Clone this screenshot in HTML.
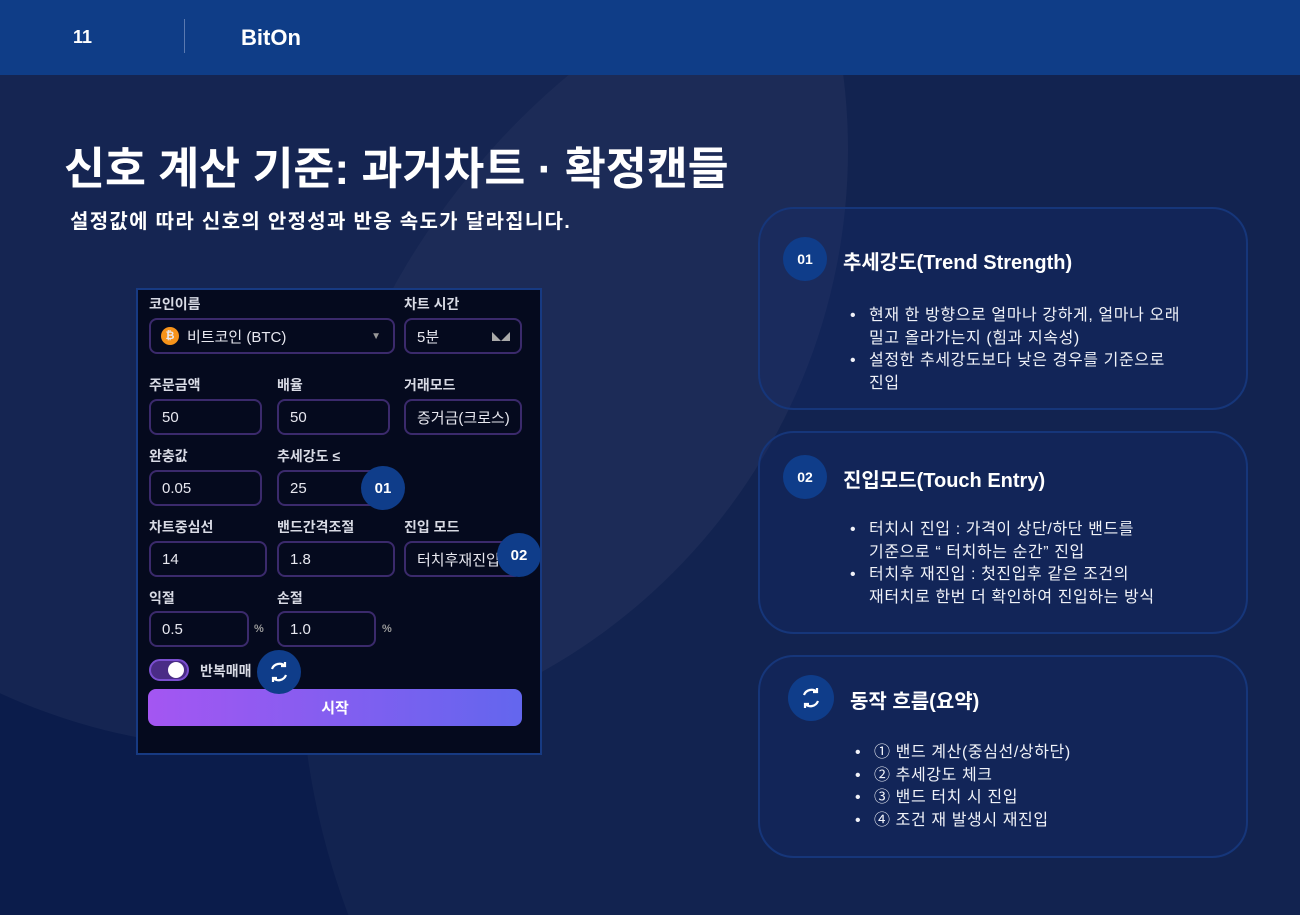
<!DOCTYPE html>
<html><head><meta charset="utf-8">
<style>
*{margin:0;padding:0;box-sizing:border-box}
html,body{width:1300px;height:915px;overflow:hidden}
body{background:#0b1c4b;font-family:"Liberation Sans","Noto Sans CJK KR",sans-serif;color:#fff;position:relative}
.abs{position:absolute}
.hdr{left:0;top:0;width:1300px;height:75px;background:#0f3d87}
.card{position:absolute;left:758px;width:490px;border:2px solid #16367a;border-radius:36px;background:rgba(20,45,110,0.25)}
.badge{position:absolute;border-radius:50%;background:#0f3d8a;color:#fff;font-weight:bold;font-size:14px;display:flex;align-items:center;justify-content:center}
.ct{position:absolute;font-size:20px;font-weight:bold;white-space:nowrap}
.bl{position:absolute;font-size:16px;line-height:22.5px;white-space:nowrap;color:#f0f2f8;letter-spacing:0.6px}
.bl li{list-style:none;position:relative}
.bl li:before{content:"•";position:absolute;left:-19px}
.panel{left:136px;top:288px;width:406px;height:467px;background:#050a1e;border:2px solid #173a82}
.lab{position:absolute;font-size:14px;font-weight:bold;color:#d8dae4;white-space:nowrap}
.inp{position:absolute;height:36px;border:2px solid #3b2a6c;border-radius:8px;font-size:15px;color:#e8e8f0;padding-left:11px;display:flex;align-items:center;white-space:nowrap;overflow:hidden}
.pct{position:absolute;font-size:11px;color:#999;font-weight:bold}
</style></head><body>
<svg class="abs" style="left:0;top:0" width="1300" height="915">
<circle cx="250" cy="150" r="598" fill="#ffffff" fill-opacity="0.045"/>
<circle cx="1050" cy="650" r="750" fill="#ffffff" fill-opacity="0.03"/>
</svg>
<div class="abs hdr"></div>
<div class="abs" style="left:73px;top:27px;font-size:18px;font-weight:bold">11</div>
<div class="abs" style="left:184px;top:19px;width:1px;height:34px;background:#5a79b0"></div>
<div class="abs" style="left:241px;top:25px;font-size:22px;font-weight:bold">BitOn</div>

<div class="abs" style="left:64px;top:132px;font-size:44.5px;font-weight:bold;white-space:nowrap">신호 계산 기준: 과거차트 · 확정캔들</div>
<div class="abs" style="left:70px;top:205px;font-size:20px;font-weight:bold;white-space:nowrap;letter-spacing:1.3px">설정값에 따라 신호의 안정성과 반응 속도가 달라집니다.</div>

<div class="abs panel"></div>
<div class="lab" style="left:149px;top:294px">코인이름</div>
<div class="lab" style="left:404px;top:294px">차트 시간</div>
<div class="inp" style="left:149px;top:318px;width:246px;padding-left:10px"><span style="display:inline-block;width:18px;height:18px;border-radius:50%;background:#f7931a;font-size:11px;text-align:center;line-height:18px;margin-right:8px;font-weight:bold">₿</span>비트코인 (BTC)<span style="position:absolute;right:12px;font-size:10px;color:#999">▼</span></div>
<div class="inp" style="left:404px;top:318px;width:118px">5분<span style="position:absolute;right:10px;font-size:9px;color:#aaa">◣◢</span></div>

<div class="lab" style="left:149px;top:375px">주문금액</div>
<div class="lab" style="left:277px;top:375px">배율</div>
<div class="lab" style="left:404px;top:375px">거래모드</div>
<div class="inp" style="left:149px;top:399px;width:113px">50</div>
<div class="inp" style="left:277px;top:399px;width:113px">50</div>
<div class="inp" style="left:404px;top:399px;width:118px">증거금(크로스)</div>

<div class="lab" style="left:149px;top:446px">완충값</div>
<div class="lab" style="left:277px;top:446px">추세강도 ≤</div>
<div class="inp" style="left:149px;top:470px;width:113px">0.05</div>
<div class="inp" style="left:277px;top:470px;width:113px">25</div>

<div class="lab" style="left:149px;top:517px">차트중심선</div>
<div class="lab" style="left:277px;top:517px">밴드간격조절</div>
<div class="lab" style="left:404px;top:517px">진입 모드</div>
<div class="inp" style="left:149px;top:541px;width:118px">14</div>
<div class="inp" style="left:277px;top:541px;width:118px">1.8</div>
<div class="inp" style="left:404px;top:541px;width:118px">터치후재진입</div>

<div class="lab" style="left:149px;top:588px">익절</div>
<div class="lab" style="left:277px;top:588px">손절</div>
<div class="inp" style="left:149px;top:611px;width:100px">0.5</div>
<div class="pct" style="left:254px;top:623px">%</div>
<div class="inp" style="left:277px;top:611px;width:99px">1.0</div>
<div class="pct" style="left:382px;top:623px">%</div>

<div class="abs" style="left:149px;top:659px;width:40px;height:22px;border-radius:11px;background:#4a2c86;border:2px solid #7b4fd0"></div>
<div class="abs" style="left:168px;top:662px;width:16px;height:16px;border-radius:50%;background:#fff"></div>
<div class="lab" style="left:200px;top:661px">반복매매</div>
<div class="abs" style="left:148px;top:689px;width:374px;height:37px;border-radius:8px;background:linear-gradient(90deg,#a456f2,#6366ee);font-size:15px;font-weight:bold;display:flex;align-items:center;justify-content:center">시작</div>

<div class="badge" style="left:361px;top:466px;width:44px;height:44px;font-size:15px">01</div>
<div class="badge" style="left:497px;top:533px;width:44px;height:44px;font-size:15px">02</div>
<div class="badge" style="left:257px;top:650px;width:44px;height:44px">
<svg width="24" height="24" viewBox="0 0 24 24" fill="none" stroke="#fff" stroke-width="2.2"><path d="M5 9a8 8 0 0 1 13-3"/><path d="M19 15a8 8 0 0 1-13 3"/><path d="M18 2v4h-4" /><path d="M6 22v-4h4"/></svg></div>

<div class="card" style="top:207px;height:203px"></div>
<div class="badge" style="left:783px;top:237px;width:44px;height:44px">01</div>
<div class="ct" style="left:843px;top:246px">추세강도(Trend Strength)</div>
<ul class="bl" style="left:869px;top:305px"><li>현재 한 방향으로 얼마나 강하게, 얼마나 오래<br>밀고 올라가는지 (힘과 지속성)</li><li>설정한 추세강도보다 낮은 경우를 기준으로<br>진입</li></ul>

<div class="card" style="top:431px;height:203px"></div>
<div class="badge" style="left:783px;top:455px;width:44px;height:44px">02</div>
<div class="ct" style="left:843px;top:464px">진입모드(Touch Entry)</div>
<ul class="bl" style="left:869px;top:519px"><li>터치시 진입 : 가격이 상단/하단 밴드를<br>기준으로 “ 터치하는 순간” 진입</li><li>터치후 재진입 : 첫진입후 같은 조건의<br>재터치로 한번 더 확인하여 진입하는 방식</li></ul>

<div class="card" style="top:655px;height:203px"></div>
<div class="badge" style="left:788px;top:675px;width:46px;height:46px">
<svg width="24" height="24" viewBox="0 0 24 24" fill="none" stroke="#fff" stroke-width="2.2"><path d="M5 9a8 8 0 0 1 13-3"/><path d="M19 15a8 8 0 0 1-13 3"/><path d="M18 2v4h-4" /><path d="M6 22v-4h4"/></svg></div>
<div class="ct" style="left:850px;top:685px">동작 흐름(요약)</div>
<ul class="bl" style="left:874px;top:742px"><li>① 밴드 계산(중심선/상하단)</li><li>② 추세강도 체크</li><li>③ 밴드 터치 시 진입</li><li>④ 조건 재 발생시 재진입</li></ul>
</body></html>
